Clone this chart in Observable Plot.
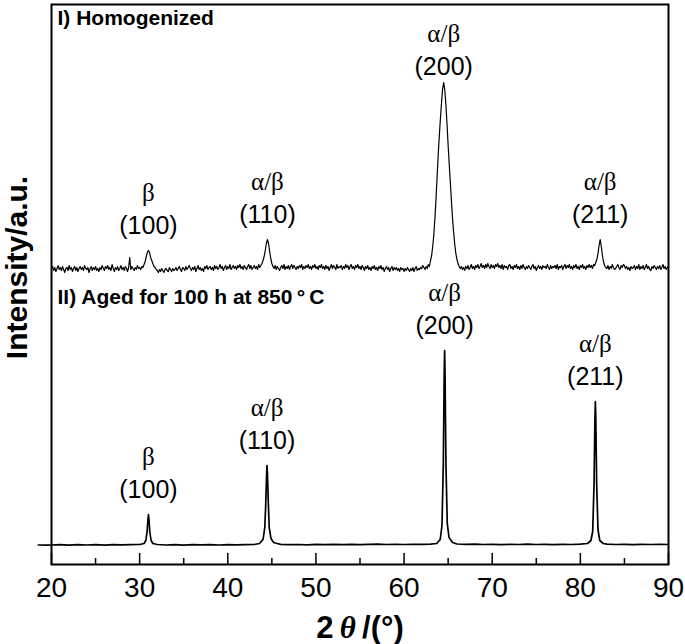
<!DOCTYPE html>
<html>
<head>
<meta charset="utf-8">
<script src="https://cdn.jsdelivr.net/npm/d3@7"></script>
<script src="https://cdn.jsdelivr.net/npm/@observablehq/plot@0.6"></script>
<style>
  html, body { margin: 0; padding: 0; background: #fff; }
  #chart svg { display: block; }
</style>
</head>
<body>
<div id="chart"></div>
<script>
// ---- Data ----
// I) Homogenized: measured on a fixed 2θ grid (start 20°, step 0.125°), intensity above baseline
const homogenizedStart = 20;
const homogenizedStep = 0.125;
const homogenizedCounts = [
 2,4,0,3,-1,2,5,1,   3,0,4,1,-2,2,3,0,   5,1,3,-1,2,4,0,3,   -1,2,4,1,3,0,5,2,      // 20-23
 1,3,-2,2,4,0,3,1,   4,0,2,-1,3,1,5,2,   0,4,2,5,1,3,0,6,    2,-1,3,1,4,0,2,5,      // 24-27
 1,3,0,4,2,-1,3,13,  1,4,2,0,3,1,5,2,    3,1,4,3,6,9,14,18,  20,18,13,10,7,4,3,1,   // 28-31
 0,-2,1,-1,2,0,-2,1, 2,0,-1,3,1,-1,2,0,  1,3,0,2,4,1,-1,3,   2,0,4,1,3,5,2,0,       // 32-35
 3,1,4,-1,2,5,1,3,   0,2,-1,4,2,5,1,3,   4,1,3,0,5,2,4,1,    3,6,2,4,0,3,5,1,       // 36-39
 4,2,6,1,3,5,2,4,    1,5,3,6,2,4,1,5,    3,1,4,6,2,5,1,3,    5,2,4,1,6,3,5,7,       // 40-43
 10,14,20,27,31,27,19,12, 7,4,2,5,1,4,2,0, 3,5,2,6,1,4,2,5,  1,4,6,2,5,3,1,4,       // 44-47
 2,5,3,6,1,4,2,5,    3,6,2,4,1,5,3,6,    2,4,1,5,3,6,2,4,    1,5,2,4,0,3,6,2,       // 48-51
 5,3,1,6,2,4,3,5,    1,4,2,6,3,5,1,4,    6,2,4,1,5,3,6,2,    4,1,5,3,0,4,2,5,       // 52-55
 1,3,0,4,2,5,1,3,    0,4,2,5,1,3,-1,2,   4,1,3,-1,2,4,0,3,   1,3,0,2,-1,3,1,2,      // 56-59
 -1,2,0,3,1,-1,2,0,  3,-1,2,4,0,2,1,3,   2,5,3,1,4,2,6,4,    10,15,24,36,52,72,94,116, // 60-63
 135,152,168,182,188,180,165,146, 125,106,88,69,52,38,26,17, 11,7,4,2,4,1,3,0, 4,2,5,1,3,6,2,4, // 64-67
 1,5,3,6,2,4,7,3,    5,2,6,3,7,4,2,6,    3,5,2,6,4,7,3,5,    2,6,1,5,3,4,1,5,       // 68-71
 6,2,4,1,5,3,6,2,    4,1,5,2,6,3,1,4,    2,5,3,1,4,6,2,4,    0,3,5,2,4,1,5,3,       // 72-75
 4,2,6,3,1,5,2,4,    3,5,2,6,1,4,3,5,    1,4,6,2,5,3,6,2,    4,1,5,3,6,2,4,1,       // 76-79
 5,3,6,2,4,1,5,3,    6,3,5,2,6,5,8,11,   17,25,31,24,15,9,5,3, 2,5,1,4,2,6,3,1,     // 80-83
 2,4,6,3,1,5,3,6,    5,2,4,1,3,0,4,2,    3,5,1,4,2,6,1,4,    2,5,1,3,6,2,4,1,       // 84-87
 0,4,2,5,3,1,4,2,    5,1,3,6,2,4,1,3,    4                                          // 88-90
];

// II) Aged for 100 h at 850 °C: [2θ, intensity above baseline]
const aged = [
[18.5,0.5],[19.5,0.3],[20,0.5],[21,0.8],[22,0.4],[23,0.9],[24,0.5],[25,0.8],[26,0.4],[27,0.9],[28,0.6],[29,0.9],[30,1],
[30.5,2],[30.7,5],[30.85,14],[30.95,27],[31.0,31],[31.05,27],[31.15,14],[31.3,5],[31.5,2],[32,1],[33,0.5],[34,0.8],
[35,0.4],[36,0.9],[37,0.6],[38,0.8],[39,0.5],[40,0.9],[41,0.6],[42,0.9],[43,1],[43.6,2],[44.0,6],[44.2,18],[44.3,40],
[44.4,70],[44.45,80],[44.5,72],[44.6,42],[44.7,18],[44.9,7],[45.2,3],[45.6,2],[46,1.2],[47,0.9],[48,1],[49,0.7],[50,1.1],
[51,0.8],[52,1.1],[53,0.9],[54,1.2],[55,0.9],[56,1.2],[57,1.4],[58,1],[59,1.2],[60,1],[61,1.2],[62,1.1],[63,1.3],
[63.7,2],[64.1,6],[64.3,20],[64.45,80],[64.55,170],[64.6,195],[64.65,172],[64.75,82],[64.9,22],[65.1,8],[65.5,3],[66,1.5],
[67,1.1],[68,1.3],[69,1],[70,1.2],[71,0.9],[72,1.2],[73,1],[74,1.3],[75,1],[76,1.2],[77,0.9],[78,1.2],[79,1],[80,1.3],
[80.8,2],[81.2,5],[81.4,14],[81.55,60],[81.65,125],[81.7,144],[81.75,128],[81.85,62],[82.0,16],[82.2,5],[82.6,2],
[83,1.3],[84,1],[85,1.2],[86,0.9],[87,1.2],[88,1],[89,1.2],[90,1]
];

// Peak labels
const phaseLabels = ["β", "α/β", "α/β", "α/β"];
const hklLabels = ["(100)", "(110)", "(200)", "(211)"];
const peaksHomogenized = [31.0, 44.5, 64.5, 82.25];
const peaksAged = [31.0, 44.45, 64.6, 81.7];

// Axis ticks
const majorTicks = [20, 30, 40, 50, 60, 70, 80, 90];
const minorTicks = [25, 35, 45, 55, 65, 75, 85];

// Panel labels and axis titles
const panelLabels = ["I) Homogenized", "II) Aged for 100 h at 850\u2009°\u2009C"];
const xTitle = "2θ/(°)";
const yTitle = "Intensity/a.u.";

// ---- Build ----
const offsetI = 275;          // vertical stacking offset of pattern I
const yMin = -19, yMax = 541;
const sans = "'Liberation Sans', Arial, Helvetica, sans-serif";
const serif = "'Liberation Serif', 'Times New Roman', serif";

const homogenized = homogenizedCounts.map((c, i) => [homogenizedStart + i * homogenizedStep, c]);

const peakTop = (trace, x) => {
  let best = -Infinity;
  for (const [px, py] of trace) if (Math.abs(px - x) < 0.3) best = Math.max(best, py);
  return best;
};

const labelRows = [];
peaksHomogenized.forEach((x, i) => {
  const top = peakTop(homogenized, x) + offsetI;
  const yh = Math.min(top + 25, 479);
  labelRows.push({x, yh, yp: yh + 33, phase: phaseLabels[i], hkl: hklLabels[i]});
});
peaksAged.forEach((x, i) => {
  const top = peakTop(aged, x);
  const yh = top + 25;
  labelRows.push({x, yh, yp: yh + 33, phase: phaseLabels[i], hkl: hklLabels[i]});
});

const homData = homogenized.map(([x, y]) => ({x, y: y + offsetI}));
const agedData = aged.map(([x, y]) => ({x, y}));

const chart = Plot.plot({
  width: 685,
  height: 644,
  marginLeft: 51,
  marginRight: 17,
  marginTop: 4,
  marginBottom: 80,
  style: {fontFamily: sans, color: "black", background: "white"},
  x: {domain: [20, 90], axis: null},
  y: {domain: [yMin, yMax], axis: null},
  marks: [
    Plot.ruleX(majorTicks, {x: d => d, y1: yMin, y2: yMin + 11, stroke: "black", strokeWidth: 1.5}),
    Plot.ruleX(minorTicks, {x: d => d, y1: yMin, y2: yMin + 6, stroke: "black", strokeWidth: 1.5}),
    Plot.line(homData, {x: "x", y: "y", stroke: "black", strokeWidth: 1.2}),
    Plot.line(agedData, {x: "x", y: "y", stroke: "black", strokeWidth: 1.7}),
    Plot.frame({stroke: "black", strokeWidth: 2}),
    Plot.text(labelRows, {x: "x", y: "yh", text: "hkl", fontSize: 25, lineAnchor: "middle", fill: "black"}),
    Plot.text(labelRows, {x: "x", y: "yp", text: "phase", fontSize: 25, fontFamily: serif, lineAnchor: "middle", fill: "black"}),
    Plot.text(majorTicks, {x: d => d, text: d => String(d), frameAnchor: "bottom", dy: 24, fontSize: 28, lineAnchor: "middle", fill: "black"}),
    Plot.text([panelLabels[0]], {frameAnchor: "top-left", dx: 6, dy: 14, fontSize: 21, fontWeight: "bold", textAnchor: "start", lineAnchor: "middle", fill: "black"}),
    Plot.text([panelLabels[1]], {frameAnchor: "top-left", dx: 6, dy: 293, fontSize: 21, fontWeight: "bold", textAnchor: "start", lineAnchor: "middle", fill: "black"}),
    Plot.text([xTitle], {frameAnchor: "bottom", dy: 64, fontSize: 31, fontWeight: "bold", lineAnchor: "middle", fill: "black"}),
    Plot.text([yTitle], {x: [16.15], y: [278], rotate: -90, fontSize: 30, fontWeight: "bold", lineAnchor: "middle", fill: "black"})
  ]
});

// italic θ in the x title
chart.querySelectorAll("text").forEach(t => {
  if (t.textContent === xTitle) {
    t.textContent = "";
    const parts = [["2\u2009", null], ["θ", "italic"], ["\u2009/(°)", null]];
    for (const [s, style] of parts) {
      const ts = document.createElementNS("http://www.w3.org/2000/svg", "tspan");
      ts.textContent = s;
      if (style) { ts.setAttribute("font-style", "italic"); ts.setAttribute("font-family", serif); }
      t.appendChild(ts);
    }
  }
});

document.getElementById("chart").appendChild(chart);
</script>
</body>
</html>
